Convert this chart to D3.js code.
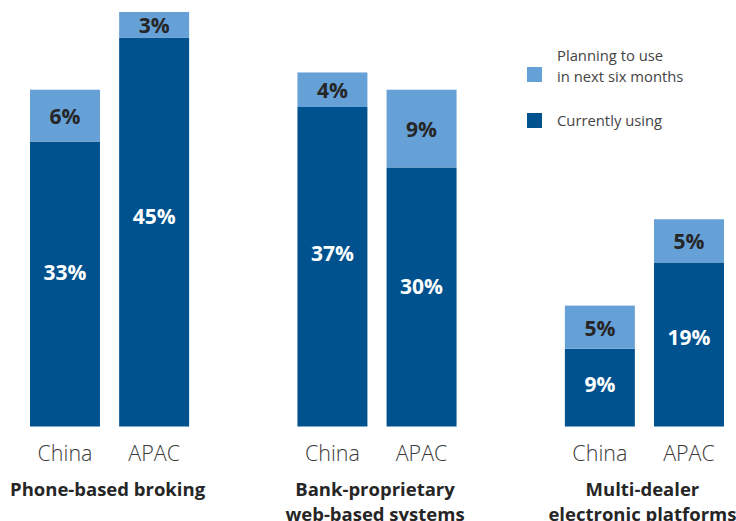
<!DOCTYPE html>
<html>
<head>
<meta charset="utf-8">
<script src="https://cdn.jsdelivr.net/npm/d3@7"></script>
<style>
  html, body { margin: 0; padding: 0; background: #fff; }
  svg { display: block; }
  text { font-family: "Open Sans", "Noto Sans", sans-serif; }
</style>
</head>
<body>
<svg id="chart" width="736" height="521"></svg>
<script>
// Data
const groups = ["Phone-based broking", "Bank-proprietary web-based systems", "Multi-dealer electronic platforms"];
const groupTitleLines = [["Phone-based broking"], ["Bank-proprietary", "web-based systems"], ["Multi-dealer", "electronic platforms"]];
const regions = ["China", "APAC"];
// Currently using (%), per group, order China, APAC
const currentlyUsing = [[33, 45], [37, 30], [9, 19]];
// Planning to use in next six months (%)
const planningToUse = [[6, 3], [4, 9], [5, 5]];
const legendLabels = [["Planning to use", "in next six months"], ["Currently using"]];

const colDark = "#00528f";
const colLight = "#65a0d6";

const svg = d3.select("#chart");

const y = d3.scaleLinear().domain([0, 48]).range([426.5, 12]);
const x0 = d3.scaleBand().domain(groups).range([30, 724]).paddingInner(0.405).paddingOuter(0);
const x1 = d3.scaleBand().domain(regions).range([0, x0.bandwidth()]).paddingInner(0.215).paddingOuter(0);

// Flatten into bar records
const bars = [];
groups.forEach((g, gi) => {
  regions.forEach((r, ri) => {
    bars.push({ group: g, gi, region: r, cur: currentlyUsing[gi][ri], plan: planningToUse[gi][ri] });
  });
});

const gBars = svg.append("g");
const barG = gBars.selectAll("g.bar").data(bars).join("g")
  .attr("class", "bar")
  .attr("transform", d => `translate(${x0(d.group) + x1(d.region)},0)`);

// Currently using segment
barG.append("rect")
  .attr("x", 0).attr("width", x1.bandwidth())
  .attr("y", d => y(d.cur)).attr("height", d => y(0) - y(d.cur))
  .attr("fill", colDark);

// Planning segment on top
barG.append("rect")
  .attr("x", 0).attr("width", x1.bandwidth())
  .attr("y", d => y(d.cur + d.plan)).attr("height", d => y(d.cur) - y(d.cur + d.plan))
  .attr("fill", colLight);

// Value labels (dark segment label sits a little above its middle)
barG.append("text")
  .attr("x", x1.bandwidth() / 2)
  .attr("y", d => y(d.cur) + 0.46 * (y(0) - y(d.cur)))
  .attr("dy", "0.35em")
  .attr("text-anchor", "middle")
  .attr("fill", "#fff")
  .attr("font-weight", 700)
  .attr("font-size", 21)
  .text(d => d.cur + "%");

barG.append("text")
  .attr("x", x1.bandwidth() / 2)
  .attr("y", d => (y(d.cur) + y(d.cur + d.plan)) / 2 + 1)
  .attr("dy", "0.35em")
  .attr("text-anchor", "middle")
  .attr("fill", "#262626")
  .attr("font-weight", 700)
  .attr("font-size", 21)
  .text(d => d.plan + "%");

// Region labels under bars
barG.append("text")
  .attr("x", x1.bandwidth() / 2)
  .attr("y", 461)
  .attr("text-anchor", "middle")
  .attr("fill", "#3a3a3a")
  .attr("font-weight", 300)
  .attr("font-size", 21.5)
  .text(d => d.region);

// Group titles
const titleG = svg.append("g").selectAll("text").data(groups).join("text")
  .attr("x", d => x0(d) + x0.bandwidth() / 2 - 2)
  .attr("y", 496)
  .attr("text-anchor", "middle")
  .attr("fill", "#262626")
  .attr("font-weight", 700)
  .attr("font-size", 18.5);
titleG.each(function(d, i) {
  d3.select(this).selectAll("tspan").data(groupTitleLines[i]).join("tspan")
    .attr("x", x0(d) + x0.bandwidth() / 2 - 2)
    .attr("dy", (t, j) => j === 0 ? 0 : 25)
    .text(t => t);
});

// Legend
const legend = svg.append("g").attr("transform", "translate(527,0)");
const legendItems = [
  { color: colLight, lines: legendLabels[0], sy: 67, ty: 61 },
  { color: colDark, lines: legendLabels[1], sy: 113, ty: 126 }
];
legendItems.forEach(it => {
  legend.append("rect").attr("x", 0).attr("y", it.sy).attr("width", 15).attr("height", 15).attr("fill", it.color);
  const t = legend.append("text").attr("x", 30).attr("y", it.ty)
    .attr("fill", "#444").attr("font-size", 14.8);
  it.lines.forEach((l, j) => {
    t.append("tspan").attr("x", 30).attr("dy", j === 0 ? 0 : 21).text(l);
  });
});
</script>
</body>
</html>
